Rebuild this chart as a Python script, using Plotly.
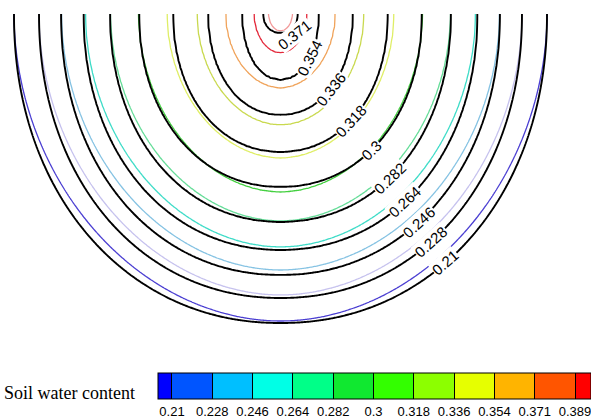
import numpy as np
import plotly.graph_objects as go

# ---------------- data ----------------
# contour levels of soil water content (cm3/cm3) and their printed labels
level_values = [0.2100, 0.2279, 0.2458, 0.2637, 0.2816, 0.2995, 0.3174, 0.3353, 0.3532, 0.3711, 0.3890]
level_labels = ["0.21", "0.228", "0.246", "0.264", "0.282", "0.3", "0.318", "0.336", "0.354", "0.371", "0.389"]

# black contour set (levels 0.21 .. 0.371): half width at the surface and depth below the emitter, cm
black_half_width = [53.3, 48.3, 43.9, 39.4, 34.1, 28.3, 21.5, 14.5, 7.7, 3.5]
black_depth = [61.8, 56.8, 52.2, 47.2, 41.6, 34.6, 27.6, 20.2, 13.2, 3.8]

# coloured contour set (levels 0.21 .. 0.389)
color_half_width = [53.3, 48.3, 43.8, 39.0, 34.0, 28.4, 22.7, 16.7, 11.0, 5.3, 2.4]
color_depth = [61.4, 56.2, 51.2, 46.6, 41.4, 35.6, 28.8, 22.2, 14.8, 7.8, 3.4]
color_line_colors = ["#4b3fd2", "#c6c2ee", "#86c3e3", "#3fdcc8", "#66dd99", "#44d040",
                     "#dfee66", "#c9d94f", "#f0a35a", "#e3283a", "#f29a9a"]

# colour bar
bar_colors = ["#0000ff", "#0055ff", "#00bfff", "#00ffe6", "#00ff88", "#10e830",
              "#33ff00", "#8cff00", "#e6ff00", "#ffb400", "#ff5500", "#ff0000"]
bar_min, bar_max = 0.2038, 0.3961

# ---------------- build the gridded fields ----------------
xg = np.arange(-58.0, 64.01, 0.4)
dg = np.arange(0.0, 68.01, 0.4)
X, D = np.meshgrid(xg, dg)


def build_field(hw, dep, vals, p):
    hw = np.asarray(hw, float)[:, None, None]
    dep = np.asarray(dep, float)[:, None, None]
    vals = np.asarray(vals, float)
    n = len(vals)
    step = vals[1] - vals[0]
    s = ((np.abs(X) / hw) ** p + (D / dep) ** p) ** (1.0 / p)
    k = (s < 1).sum(axis=0)
    z = np.empty(X.shape)
    out = k == 0
    s0, s1 = s[0], s[1]
    z[out] = vals[0] - step * np.minimum(0.9, (s0[out] - 1) / (s1[out] - s0[out]))
    inn = k == n
    z[inn] = vals[-1] + 0.9 * step * (1 - s[-1][inn])
    mid = (~out) & (~inn)
    km = k[mid]
    sflat = s.reshape(n, -1)[:, mid.ravel()]
    idx = np.arange(sflat.shape[1])
    sa = sflat[km - 1, idx]
    sb = sflat[km, idx]
    t = (1 - sa) / (sb - sa)
    z[mid] = vals[km - 1] + t * (vals[km] - vals[km - 1])
    return z


nb = len(black_half_width)
Zb = build_field(black_half_width, black_depth, level_values[:nb], 2.1)
Zc = build_field(color_half_width, color_depth, level_values, 1.95)
size = (level_values[-1] - level_values[0]) / (len(level_values) - 1)

fig = go.Figure()
fig.add_trace(go.Contour(
    x=xg, y=-dg, z=Zc,
    contours=dict(start=level_values[0], end=level_values[-1], size=size, coloring="lines"),
    colorscale=[[i / (len(color_line_colors) - 1), c] for i, c in enumerate(color_line_colors)],
    line=dict(width=1.3, smoothing=0.6),
    showscale=False, hoverinfo="skip"))
fig.add_trace(go.Contour(
    x=xg, y=-dg, z=Zb,
    contours=dict(start=level_values[0], end=level_values[nb - 1], size=size, coloring="none"),
    line=dict(width=1.9, color="black", smoothing=0.6),
    showscale=False, hoverinfo="skip"))

# colour bar (discrete blocks) from a hidden scatter
bounds = [0.0] + [(v - bar_min) / (bar_max - bar_min) for v in level_values] + [1.0]
bar_scale = []
for i, c in enumerate(bar_colors):
    bar_scale.append([bounds[i], c])
    bar_scale.append([bounds[i + 1], c])
fig.add_trace(go.Scatter(
    x=[0], y=[500], mode="markers", hoverinfo="skip", showlegend=False,
    marker=dict(size=1, opacity=0, color=[level_values[0]], colorscale=bar_scale,
                cmin=bar_min, cmax=bar_max, showscale=True,
                colorbar=dict(orientation="h", xref="container", yref="container",
                              x=158 / 591, xanchor="left", y=1 - 373 / 418, yanchor="top",
                              len=433, lenmode="pixels", thickness=26, thicknessmode="pixels",
                              outlinewidth=1, outlinecolor="black", xpad=0, ypad=0, borderwidth=0,
                              tickmode="array", tickvals=level_values, ticktext=level_labels,
                              ticks="inside", ticklen=26, tickwidth=1, tickcolor="black",
                              ticklabeloverflow="allow",
                              tickfont=dict(family="Liberation Sans", size=13, color="black")))))

# contour labels placed where each black contour crosses a diagonal line
A = np.array([2.9, 4.2])
B = np.array([33.9, 51.2])
p = 2.1
for i in range(nb):
    a, b = black_half_width[i], black_depth[i]

    def f(t):
        P = A + t * (B - A)
        return (abs(P[0]) / a) ** p + (P[1] / b) ** p - 1

    lo, hi = 0.0, 1.2
    if f(lo) > 0:
        t = 0.0
    else:
        for _ in range(60):
            m = 0.5 * (lo + hi)
            if f(m) < 0:
                lo = m
            else:
                hi = m
        t = 0.5 * (lo + hi)
    P = A + t * (B - A)
    gx = p * abs(P[0]) ** (p - 1) / a ** p
    gd = p * P[1] ** (p - 1) / b ** p
    ang = np.degrees(np.arctan2(-gx, gd))
    fig.add_annotation(x=P[0], y=-P[1], xref="x", yref="y", text=level_labels[i],
                       showarrow=False, textangle=ang, bgcolor="white", borderpad=0,
                       font=dict(family="Liberation Sans", size=15, color="black"))

fig.add_annotation(x=2 / 591, y=1 - 393 / 418, xref="paper", yref="paper", xanchor="left",
                   yanchor="middle", text="Soil water content", showarrow=False,
                   font=dict(family="Liberation Serif", size=18, color="black"))

fig.update_xaxes(range=[-280.5 / 5, (591 - 280.5) / 5], visible=False, domain=[0, 1])
fig.update_yaxes(range=[-(340 - 14) / 5, 0], visible=False, domain=[1 - 340 / 418, 1 - 14 / 418])
fig.update_layout(width=591, height=418,
                  margin=dict(l=0, r=0, t=0, b=0, autoexpand=False), autosize=False,
                  paper_bgcolor="white", plot_bgcolor="white", showlegend=False)
fig.write_html("out.html", config={"displayModeBar": False, "staticPlot": True},
               post_script="document.body.style.margin='0px';document.body.style.overflow='hidden';")
